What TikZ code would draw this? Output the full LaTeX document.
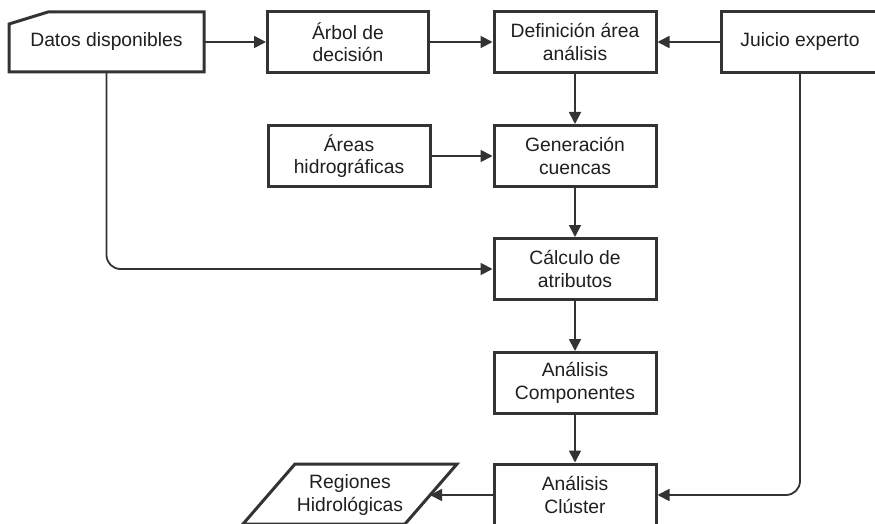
\documentclass[tikz,border=0pt]{standalone}
\usepackage{fontspec}
\setmainfont{Liberation Sans}
\usetikzlibrary{arrows.meta}
\begin{document}
\begin{tikzpicture}[x=1pt,y=-1pt,
  every node/.style={font=\fontsize{19.3}{22.5}\selectfont, text=black!88, align=center, inner sep=0pt},
  procbox/.style={draw=black!80, line width=3pt, minimum height=61pt},
  plain/.style={minimum height=60pt},
  conn/.style={draw=black!80, line width=1.8pt, -{Triangle[length=12pt,width=12pt]}, rounded corners=14pt},
  outline/.style={draw=black!80, line width=3pt, line join=miter}
]
\useasboundingbox (0,0) rectangle (875,524);
\clip (0,0) rectangle (875,524);
\fill[white] (0,0) rectangle (875,524);
% nodes
\node[plain, minimum width=195pt] (datos) at (106.5,42) {Datos disponibles};
\draw[outline] (9,24) -- (48,12) -- (204,12) -- (204,72) -- (9,72) -- cycle;
\node[procbox, minimum width=161pt] (arbol) at (348,42) {Árbol de\\decisión};
\node[procbox, minimum width=162pt] (def) at (575,42) {Definición área\\análisis};
\node[procbox, minimum width=158pt] (juicio) at (800,42) {Juicio experto};
\node[procbox, minimum width=162pt] (areas) at (349,156) {Áreas\\hidrográficas};
\node[procbox, minimum width=162pt] (gen) at (575,156) {Generación\\cuencas};
\node[procbox, minimum width=162pt] (calc) at (575,269) {Cálculo de\\atributos};
\node[procbox, minimum width=162pt] (comp) at (575,383) {Análisis\\Componentes};
\node[procbox, minimum width=162pt, minimum height=62pt] (clus) at (575,495) {Análisis\\Clúster};
\node[plain, minimum width=110pt] (reg) at (350,495) {Regiones\\Hidrológicas};
\draw[outline] (295,464) -- (457,464) -- (405,524) -- (243,524) -- cycle;
\coordinate (regR) at (430,495);
% connectors
\draw[conn] (datos.east) -- (arbol.west);
\draw[conn] (arbol.east) -- (def.west);
\draw[conn] (juicio.west) -- (def.east);
\draw[conn] (def.south) -- (gen.north);
\draw[conn] (areas.east) -- (gen.west);
\draw[conn] (gen.south) -- (calc.north);
\draw[conn] (calc.south) -- (comp.north);
\draw[conn] (comp.south) -- (clus.north);
\draw[conn] (datos.south) |- (calc.west);
\draw[conn] (juicio.south) |- (clus.east);
\draw[conn] (clus.west) -- (regR);
\end{tikzpicture}
\end{document}
